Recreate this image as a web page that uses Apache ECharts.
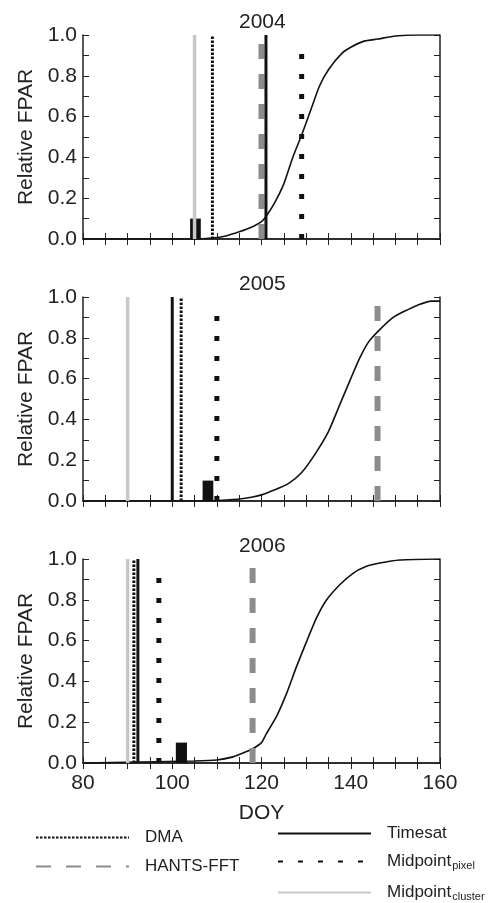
<!DOCTYPE html>
<html>
<head>
<meta charset="utf-8">
<script src="https://cdn.jsdelivr.net/npm/echarts@6/dist/echarts.min.js"></script>
<style>
  html, body { margin: 0; padding: 0; background: #fff; }
  #chart { width: 495px; height: 903px; }
</style>
</head>
<body>
<div id="chart"></div>
<script>
// panel years
const years = ["2004", "2005", "2006"];

// relative FPAR curves (DOY, value)
const doy2004 = [80, 105, 109, 112, 115, 118, 120, 121, 123, 125, 127, 129, 131, 133, 135, 138, 140, 143, 146, 150, 155, 160];
const fpar2004 = [0, 0, 0.005, 0.015, 0.035, 0.06, 0.085, 0.11, 0.18, 0.27, 0.4, 0.51, 0.63, 0.75, 0.83, 0.91, 0.94, 0.97, 0.98, 0.995, 1, 1];
const doy2005 = [80, 109, 112, 115, 118, 120, 123, 126, 129, 132, 135, 137.5, 140, 142, 144, 146.5, 149.5, 152, 155, 158, 160];
const fpar2005 = [0, 0, 0.005, 0.01, 0.02, 0.03, 0.055, 0.085, 0.14, 0.23, 0.34, 0.47, 0.6, 0.7, 0.78, 0.84, 0.9, 0.93, 0.96, 0.98, 0.98];
const doy2006 = [80, 105, 110, 113.6, 116, 118, 120, 121, 123.4, 125.6, 127.8, 130, 132.3, 134.6, 137.6, 140.5, 143, 146.5, 151, 160];
const fpar2006 = [0, 0.01, 0.015, 0.03, 0.05, 0.07, 0.1, 0.14, 0.23, 0.34, 0.47, 0.59, 0.71, 0.8, 0.875, 0.93, 0.96, 0.98, 0.995, 1];
const curveDoy = [doy2004, doy2005, doy2006];
const curveFpar = [fpar2004, fpar2005, fpar2006];

// start-of-season dates per method, one per year
const dmaDoy = [109, 102, 91.4];
const hantsDoy = [120, 146, 118];
const timesatDoy = [121, 100, 92.3];
const midPixelDoy = [129, 110, 97];
const midClusterDoy = [105, 90, 90];
const midPixelTop = 0.95;

// small histogram bars
const histStart = [104, 106.8, 100.8];
const histEnd = [106.4, 109.2, 103.3];
const histHeight = [0.1, 0.1, 0.1];

const xTicks = { min: 80, max: 160, step: 20 };
const yTicks = { min: 0, max: 1, step: 0.2 };

const font = "Liberation Sans, Arial, sans-serif";
const ink = "#222";
const gridTops = [35, 297, 559];
const plotH = 204;

const methods = [
  { name: "DMA", doy: dmaDoy, color: "#111", width: 3, type: [2.5, 1.5] },
  { name: "HANTS-FFT", doy: hantsDoy, color: "#8c8c8c", width: 6, type: [15, 15] },
  { name: "Timesat", doy: timesatDoy, color: "#111", width: 3, type: "solid" },
  { name: "Midpoint_pixel", doy: midPixelDoy, color: "#111", width: 5, type: [5, 15], top: midPixelTop },
  { name: "Midpoint_cluster", doy: midClusterDoy, color: "#c8c8c8", width: 3.5, type: "solid" },
];

const grid = [], xAxis = [], yAxis = [], series = [], title = [];

years.forEach((yr, i) => {
  grid.push({ left: 83, width: 357, top: gridTops[i], height: plotH });
  title.push({
    text: yr, left: 239, top: gridTops[i] - 23, padding: 0,
    textStyle: { fontFamily: font, fontSize: 21, fontWeight: "normal", color: ink },
  });

  const tick = { inside: true, length: 6, lineStyle: { color: ink, width: 1 } };
  const line = { lineStyle: { color: ink, width: 1.5 } };
  const last = i === years.length - 1;

  xAxis.push({
    gridIndex: i, type: "value", min: xTicks.min, max: xTicks.max, interval: xTicks.step,
    axisLine: line, axisTick: tick,
    minorTick: { show: true, splitNumber: 4, length: 6, lineStyle: { color: ink } },
    splitLine: { show: false },
    axisLabel: { show: last, fontFamily: font, fontSize: 21, color: ink, margin: 10 },
    name: last ? "DOY" : "", nameLocation: "middle", nameGap: 40,
    nameTextStyle: { fontFamily: font, fontSize: 21, color: ink },
  });
  xAxis.push({
    gridIndex: i, type: "value", position: "top", min: xTicks.min, max: xTicks.max, interval: xTicks.step,
    axisLine: line, axisTick: tick,
    minorTick: { show: true, splitNumber: 4, length: 6, lineStyle: { color: ink } },
    splitLine: { show: false }, axisLabel: { show: false },
  });
  yAxis.push({
    gridIndex: i, type: "value", min: yTicks.min, max: yTicks.max, interval: yTicks.step,
    axisLine: line, axisTick: tick,
    minorTick: { show: true, splitNumber: 2, length: 6, lineStyle: { color: ink } },
    splitLine: { show: false },
    axisLabel: { fontFamily: font, fontSize: 21, color: ink, margin: 6, formatter: (v) => v.toFixed(1) },
    name: "Relative FPAR", nameLocation: "middle", nameGap: 43,
    nameTextStyle: { fontFamily: font, fontSize: 21, color: ink },
  });
  yAxis.push({
    gridIndex: i, type: "value", position: "right", min: yTicks.min, max: yTicks.max, interval: yTicks.step,
    axisLine: line, axisTick: tick,
    minorTick: { show: true, splitNumber: 2, length: 6, lineStyle: { color: ink } },
    splitLine: { show: false }, axisLabel: { show: false },
  });

  const xi = i * 2, yi = i * 2;

  series.push({
    type: "line", xAxisIndex: xi, yAxisIndex: yi, symbol: "none", silent: true,
    smooth: 0.2,
    data: curveDoy[i].map((d, k) => [d, curveFpar[i][k]]),
    lineStyle: { color: "#111", width: 1.6 }, z: 3,
  });

  series.push({
    type: "custom", xAxisIndex: xi, yAxisIndex: yi, silent: true, z: 4,
    data: [[histStart[i], histEnd[i], histHeight[i]]],
    renderItem: (params, api) => {
      const p0 = api.coord([api.value(0), api.value(2)]);
      const p1 = api.coord([api.value(1), 0]);
      return { type: "rect", shape: { x: p0[0], y: p0[1], width: p1[0] - p0[0], height: p1[1] - p0[1] }, style: { fill: "#111" } };
    },
  });

  methods.forEach((m) => {
    series.push({
      name: m.name, type: "line", xAxisIndex: xi, yAxisIndex: yi, symbol: "none", silent: true,
      data: [[m.doy[i], 0], [m.doy[i], m.top ?? 1]],
      lineStyle: { color: m.color, width: m.width, type: m.type, cap: "butt" },
      itemStyle: { color: m.color },
      z: m.name === "Midpoint_cluster" ? 6 : 5,
    });
  });
});

const legendText = {
  fontFamily: font, fontSize: 17, color: ink, padding: [0, 0, 0, 11],
  rich: {
    b: { fontFamily: font, fontSize: 17, color: ink },
    s: { fontFamily: font, fontSize: 11, color: ink, padding: [9, 0, 0, 1] },
  },
};
const legendFmt = (n) => {
  const parts = n.split("_");
  return parts.length > 1 ? `{b|${parts[0]}}{s|${parts[1]}}` : n;
};
const legendItem = (names, left, top, gap) => ({
  data: names, orient: "vertical", left, top, padding: 0,
  itemWidth: 93, itemHeight: 14, itemGap: gap, selectedMode: false,
  itemStyle: { opacity: 0 },
  textStyle: legendText, formatter: legendFmt,
});

const chart = echarts.init(document.getElementById("chart"), null, { renderer: "canvas" });
chart.setOption({
  animation: false,
  backgroundColor: "#fff",
  title,
  grid,
  xAxis,
  yAxis,
  legend: [
    legendItem(["DMA", "HANTS-FFT"], 35, 829, 12),
    legendItem(["Timesat"], 277, 825, 0),
    legendItem(["Midpoint_pixel"], 277, 853, 0),
    legendItem(["Midpoint_cluster"], 277, 884, 0),
  ],
  series,
});
</script>
</body>
</html>
